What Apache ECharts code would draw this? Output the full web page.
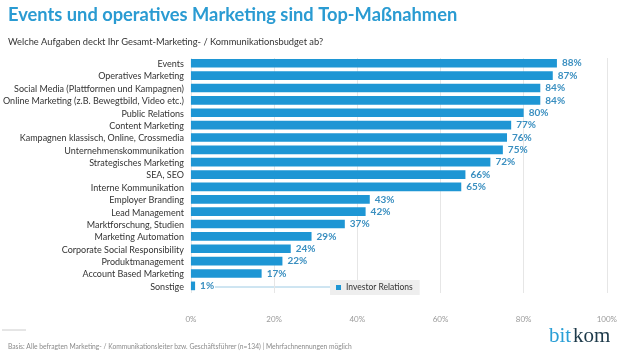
<!DOCTYPE html>
<html>
<head>
<meta charset="utf-8">
<script src="https://cdn.jsdelivr.net/npm/echarts@6/dist/echarts.min.js"></script>
<style>
html,body{margin:0;padding:0;background:#fff;}
#chart{width:620px;height:359px;}
</style>
</head>
<body>
<div id="chart"></div>
<script>
const categories = [
  "Events",
  "Operatives Marketing",
  "Social Media (Plattformen und Kampagnen)",
  "Online Marketing (z.B. Bewegtbild, Video etc.)",
  "Public Relations",
  "Content Marketing",
  "Kampagnen klassisch, Online, Crossmedia",
  "Unternehmenskommunikation",
  "Strategisches Marketing",
  "SEA, SEO",
  "Interne Kommunikation",
  "Employer Branding",
  "Lead Management",
  "Marktforschung, Studien",
  "Marketing Automation",
  "Corporate Social Responsibility",
  "Produktmanagement",
  "Account Based Marketing",
  "Sonstige"
];
const values = [88, 87, 84, 84, 80, 77, 76, 75, 72, 66, 65, 43, 42, 37, 29, 24, 22, 17, 1];
const xTicks = [0, 20, 40, 60, 80, 100];
const legendName = "Investor Relations";

const chart = echarts.init(document.getElementById('chart'));
const FONT = 'Lato';
chart.setOption({
  animation: false,
  textStyle: {fontFamily: FONT},
  title: [
    {text: 'Events und operatives Marketing sind Top-Maßnahmen', left: 3, top: 1,
     textStyle: {color: '#2a9bd2', fontSize: 18.3, fontWeight: 'bold', fontFamily: FONT}},
    {text: 'Welche Aufgaben deckt Ihr Gesamt-Marketing- / Kommunikationsbudget ab?', left: 3, top: 32,
     textStyle: {color: '#333', fontSize: 9.3, fontWeight: 'normal', fontFamily: FONT}},
    {text: 'Basis: Alle befragten Marketing- / Kommunikationsleiter bzw. Geschäftsführer (n=134) | Mehrfachnennungen möglich', left: 3, top: 338,
     textStyle: {color: '#8a8a8a', fontSize: 6.7, fontWeight: 'normal', fontFamily: FONT}}
  ],
  legend: {
    data: [legendName],
    left: 330, top: 280,
    icon: 'rect', itemWidth: 5, itemHeight: 5, itemGap: 4,
    backgroundColor: '#eeeeee', padding: [3, 7, 3, 6],
    textStyle: {color: '#333', fontSize: 8.5, fontFamily: FONT}
  },
  grid: {left: 186, right: 13, top: 58, bottom: 66, containLabel: false},
  xAxis: {
    type: 'value', min: 0, max: 100, interval: 20,
    axisLine: {show: false}, axisTick: {show: false},
    splitLine: {show: true, lineStyle: {color: '#e6e6e6', width: 1}},
    axisLabel: {color: '#9a9a9a', fontSize: 8, margin: 22,
      formatter: v => xTicks.includes(v) ? v + '%' : ''}
  },
  yAxis: {
    type: 'category', data: categories, inverse: true,
    axisLine: {show: false}, axisTick: {show: false},
    axisLabel: {color: '#333', fontSize: 9, margin: 7, interval: 0, fontFamily: FONT}
  },
  series: [
    {
      name: 'Werte', type: 'bar', data: values, barWidth: '70%',
      itemStyle: {color: '#1e96d4'},
      label: {show: true, position: 'right', distance: 5, formatter: '{c}%',
        color: '#3a8fc0', fontSize: 10, fontWeight: 'bold', fontFamily: FONT}
    },
    {
      name: legendName, type: 'bar', data: [], itemStyle: {color: '#1e96d4'}
    }
  ],
  graphic: [
    {type: 'line', shape: {x1: 215, y1: 287, x2: 330, y2: 287}, style: {stroke: '#9ecbe4', lineWidth: 1}},
    {type: 'line', shape: {x1: 2, y1: 330, x2: 26, y2: 330}, style: {stroke: '#cccccc', lineWidth: 1}},
    {type: 'text', left: 549, top: 326, style: {text: 'bit', fill: '#2a9fd6', font: '21px "Liberation Serif"'}},
    {type: 'text', left: 573, top: 326, style: {text: 'kom', fill: '#1d3a4a', font: '21px "Liberation Serif"'}}
  ]
});
</script>
</body>
</html>
